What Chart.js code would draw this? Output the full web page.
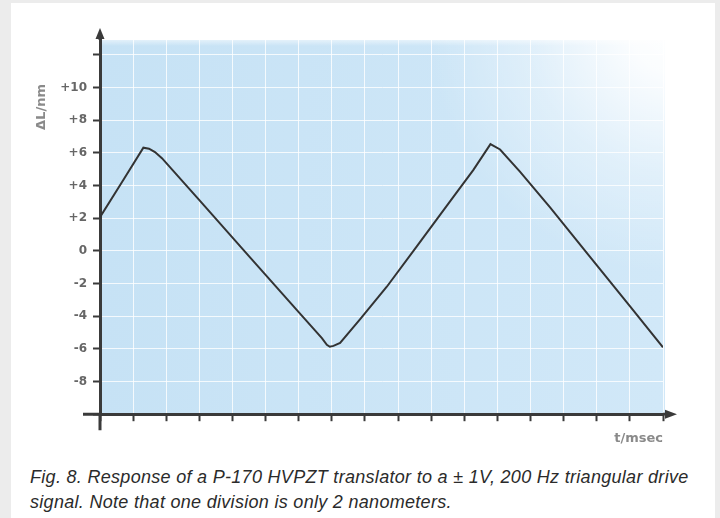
<!DOCTYPE html>
<html>
<head>
<meta charset="utf-8">
<script src="https://cdn.jsdelivr.net/npm/chart.js@4/dist/chart.umd.min.js"></script>
<style>
  html, body { margin: 0; padding: 0; background: #ececec; }
  body { width: 720px; height: 518px; position: relative; overflow: hidden; }
  #panel { position: absolute; left: 11px; top: 3px; width: 704px; height: 520px; background: #ffffff; }
  #chart { position: absolute; left: 0; top: 0; }
  #caption {
    position: absolute; left: 19px; top: 462px; margin: 0;
    font-family: "Liberation Sans", Arial, Helvetica, sans-serif;
    font-style: italic; font-size: 18px; letter-spacing: 0.3px; line-height: 25px; color: #2b2b2b;
    white-space: nowrap;
  }
</style>
</head>
<body>
<div id="panel">
  <canvas id="chart" width="704" height="452"></canvas>
  <p id="caption">Fig. 8. Response of a P-170 HVPZT translator to a ± 1V, 200 Hz triangular drive<br>signal. Note that one division is only 2 nanometers.</p>
</div>
<script>
// ---- data (x in divisions, y in nm) ----
const tValues  = [0, 0.68, 1.31, 1.48, 1.66, 1.87, 3.02, 4.53, 6.04, 6.70, 6.85, 6.94, 7.05, 7.25, 7.85, 8.66, 9.56, 10.67, 11.27, 11.79, 12.08, 12.68, 13.59, 14.79, 16.0, 17.0];
const dLValues = [2.06, 4.26, 6.31, 6.25, 6.04, 5.67, 3.05, -0.40, -3.84, -5.34, -5.75, -5.87, -5.82, -5.64, -4.20, -2.20, 0.25, 3.30, 4.94, 6.53, 6.20, 4.85, 2.66, -0.36, -3.39, -5.91];
const yTickValues = [-10, -8, -6, -4, -2, 0, 2, 4, 6, 8, 10, 12];
const yTickLabels = ['', '-8', '-6', '-4', '-2', '0', '+2', '+4', '+6', '+8', '+10', ''];
const xTickValues = [0,1,2,3,4,5,6,7,8,9,10,11,12,13,14,15,16,17];
const yTitle = 'ΔL/nm';
const xTitle = 't/msec';

const points = tValues.map((t, i) => ({ x: t, y: dLValues[i] }));
const AXIS = '#3a3a3a';

const decor = {
  id: 'decor',
  beforeDraw(chart) {
    const { ctx, chartArea: a } = chart;
    const w = a.right - a.left + 2, h = a.bottom - a.top;
    ctx.save();
    const lg = ctx.createLinearGradient(a.left, 0, a.right, 0);
    lg.addColorStop(0, '#c6e2f5');
    lg.addColorStop(1, '#d1e8f8');
    ctx.fillStyle = lg;
    ctx.fillRect(a.left, a.top, w, h);
    const cx = a.right + 15, cy = a.top - 15;
    const rg = ctx.createRadialGradient(cx, cy, 0, cx, cy, 250);
    rg.addColorStop(0, 'rgba(255,255,255,1)');
    rg.addColorStop(0.2, 'rgba(255,255,255,0.9)');
    rg.addColorStop(0.6, 'rgba(255,255,255,0.35)');
    rg.addColorStop(1, 'rgba(255,255,255,0)');
    ctx.fillStyle = rg;
    ctx.fillRect(a.left, a.top, w, h);
    const tg = ctx.createLinearGradient(0, a.top, 0, a.top + 6);
    tg.addColorStop(0, 'rgba(255,255,255,0.5)');
    tg.addColorStop(1, 'rgba(255,255,255,0)');
    ctx.fillStyle = tg;
    ctx.fillRect(a.left, a.top, w, 6);
    ctx.restore();
  },
  afterDraw(chart) {
    const { ctx, chartArea: a, scales } = chart;
    ctx.save();
    ctx.strokeStyle = AXIS;
    ctx.fillStyle = AXIS;
    ctx.lineWidth = 3;
    ctx.lineCap = 'butt';
    ctx.beginPath();
    ctx.moveTo(a.left, a.bottom);
    ctx.lineTo(a.left, a.bottom + 16);
    ctx.moveTo(a.left, a.top);
    ctx.lineTo(a.left, a.top - 2);
    ctx.stroke();
    ctx.beginPath();
    ctx.moveTo(a.left - 17, a.bottom);
    ctx.lineTo(a.left, a.bottom);
    ctx.moveTo(a.right, a.bottom);
    ctx.lineTo(a.right + 3, a.bottom);
    ctx.stroke();
    ctx.beginPath();
    ctx.moveTo(a.left, a.top - 12);
    ctx.lineTo(a.left - 4.5, a.top - 1);
    ctx.lineTo(a.left + 4.5, a.top - 1);
    ctx.closePath();
    ctx.fill();
    ctx.beginPath();
    ctx.moveTo(a.right + 14, a.bottom);
    ctx.lineTo(a.right + 2, a.bottom - 4.5);
    ctx.lineTo(a.right + 2, a.bottom + 4.5);
    ctx.closePath();
    ctx.fill();
    const ys = scales.y;
    ctx.translate(30.5, ys.getPixelForValue(8.8));
    ctx.rotate(-Math.PI / 2);
    ctx.font = 'bold 13px "DejaVu Sans", sans-serif';
    ctx.fillStyle = '#8a8a8a';
    ctx.textAlign = 'center';
    ctx.textBaseline = 'middle';
    ctx.fillText(yTitle, 0, 0);
    ctx.restore();
  }
};

new Chart(document.getElementById('chart'), {
  type: 'line',
  data: {
    datasets: [{
      data: points,
      borderColor: '#333333',
      borderWidth: 2,
      pointRadius: 0,
      tension: 0,
      fill: false
    }]
  },
  options: {
    responsive: false,
    animation: false,
    devicePixelRatio: 1,
    layout: { padding: { top: 37, right: 52, bottom: 0, left: 0 } },
    plugins: { legend: { display: false }, tooltip: { enabled: false } },
    scales: {
      x: {
        type: 'linear',
        min: 0, max: 17,
        afterBuildTicks(scale) { scale.ticks = xTickValues.map(v => ({ value: v })); },
        afterFit(scale) { scale.height = 40.8; },
        ticks: { display: false },
        grid: { color: 'rgba(255,255,255,0.8)', lineWidth: 1, tickColor: AXIS, tickWidth: 2, tickLength: 7 },
        border: { display: true, color: AXIS, width: 3 },
        title: {
          display: true, text: xTitle, align: 'end', color: '#8a8a8a',
          font: { family: '"DejaVu Sans", sans-serif', size: 13, weight: 'bold' },
          padding: { top: 0, bottom: 9 }
        }
      },
      y: {
        type: 'linear',
        min: -10, max: 12.9,
        afterBuildTicks(scale) { scale.ticks = yTickValues.map(v => ({ value: v })); },
        afterFit(scale) { scale.width = 89; },
        ticks: {
          padding: 6,
          color: '#666666',
          font: { family: '"DejaVu Sans", sans-serif', size: 12, weight: 'bold' },
          callback(value) { const i = yTickValues.indexOf(value); return i >= 0 ? yTickLabels[i] : ''; }
        },
        grid: { color: 'rgba(255,255,255,0.8)', lineWidth: 1, tickColor: AXIS, tickWidth: 2, tickLength: 7 },
        border: { display: true, color: AXIS, width: 3 }
      }
    }
  },
  plugins: [decor]
});
</script>
</body>
</html>
